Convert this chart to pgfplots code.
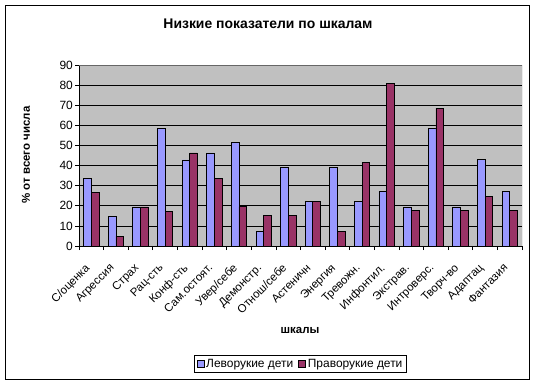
\documentclass[border=0pt]{standalone}
\usepackage{pgfplots}
\pgfplotsset{compat=1.18}
\usepackage{fontspec}
\setmainfont{Liberation Sans}
\definecolor{lblue}{HTML}{9999FF}
\definecolor{lred}{HTML}{993366}
\definecolor{plotgray}{HTML}{C0C0C0}
\begin{document}
\begin{tikzpicture}[x=1bp,y=1bp]
\useasboundingbox (0,0) rectangle (538,385);
\fill[white] (0,0) rectangle (538,385);
\draw[line width=0.9pt] (5.5,6) rectangle (529,379.5);
\node[font=\fontsize{14}{16}\selectfont\bfseries] at (268,361) {Низкие показатели по шкалам};
\node[font=\fontsize{11.5}{13}\selectfont\bfseries, rotate=90] at (26,230) {\% от всего числа};
\node[font=\fontsize{11.5}{13}\selectfont\bfseries] at (300,55) {шкалы};
\begin{axis}[
  at={(79bp,139bp)}, anchor=south west,
  scale only axis, width=443bp, height=181bp,
  ybar=0pt, bar width=7.7bp,
  xmin=-0.5, xmax=17.5, ymin=0, ymax=90,
  axis x line*=bottom, axis y line*=left,
  axis line style={-, black, line width=0.8pt},
  axis background/.style={fill=plotgray},
  ytick={0,10,...,90},
  ymajorgrids, grid style={black, line width=0.7pt},
  xtick={0,...,17},
  xticklabels={С/оценка,Агрессия,Страх,Рац-сть,Конф-сть,Сам.остоят.,Увер/себе,Демонстр.,Отнош/себе,Астеничн,Энергия,Тревожн.,Инфонтил.,Экстрав.,Интроверс.,Творч-во,Адаптац,Фантазия},
  major x tick style={draw=none},
  minor xtick={-0.5,0.5,...,17.5},
  tick align=outside,
  tick style={black, line width=0.7pt},
  major tick length=4bp, minor tick length=4bp,
  xticklabel style={xshift=-7bp, yshift=-12bp, rotate=45, anchor=north east, font=\fontsize{11.5}{13}\selectfont, inner sep=0.5pt},
  yticklabel style={font=\fontsize{12}{14}\selectfont, inner sep=2pt},
  /pgf/number format/assume math mode=true,
  legend style={at={(0.5,-0.652)}, anchor=center, legend columns=2, draw=black, line width=0.8pt, font=\fontsize{12}{14}\selectfont, inner sep=2pt, /tikz/every even column/.append style={column sep=3bp}},
  legend image code/.code={\draw[#1, draw=black, line width=0.6pt] (0bp,-3.5bp) rectangle (7bp,3.5bp);},
]
\addplot[fill=lblue, draw=black, line width=0.7pt] coordinates {
(0,33.8) (1,14.9) (2,19.4) (3,58.3) (4,42.8) (5,46.3) (6,51.3) (7,7.4) (8,39) (9,22) (10,39) (11,22) (12,27) (13,19.4) (14,58.4) (15,19.4) (16,43) (17,27)};
\addplot[fill=lred, draw=black, line width=0.7pt] coordinates {
(0,26.8) (1,4.9) (2,19.4) (3,17.4) (4,46.3) (5,33.8) (6,19.5) (7,15) (8,15) (9,22) (10,7.4) (11,41.5) (12,80.8) (13,17.5) (14,68.5) (15,17.5) (16,24.5) (17,17.5)};
\legend{Леворукие дети, Праворукие дети}
\draw[gray!80!black, line width=0.8pt] (rel axis cs:0,1) -- (rel axis cs:1,1) -- (rel axis cs:1,0);
\end{axis}
\end{tikzpicture}
\end{document}
